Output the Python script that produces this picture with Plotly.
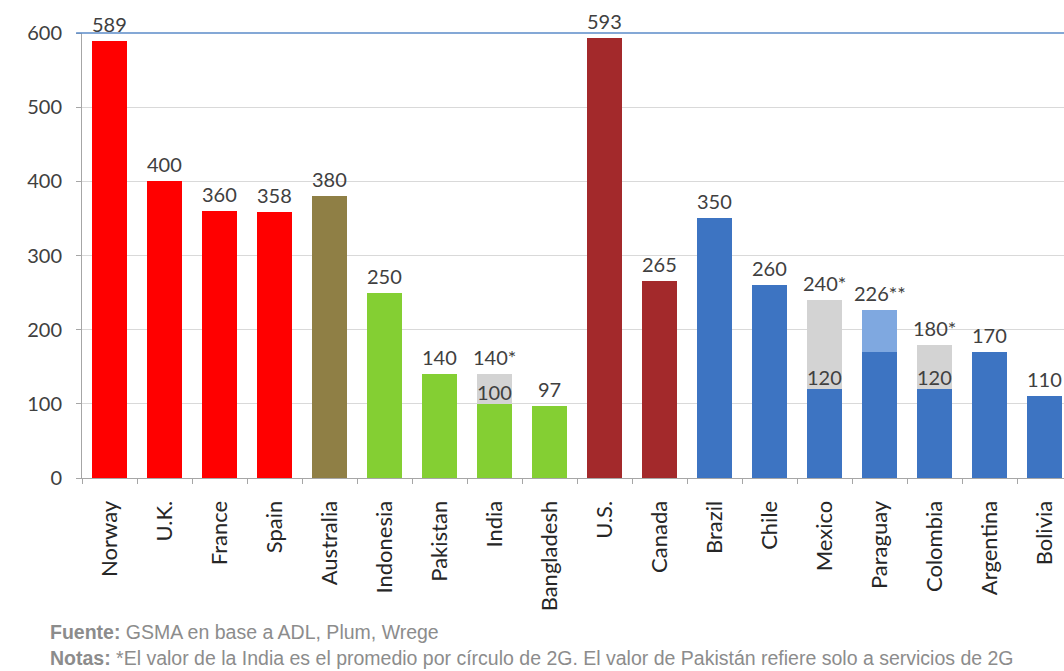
import plotly.graph_objects as go

# Categories and values
countries = ["Norway", "U.K.", "France", "Spain", "Australia", "Indonesia", "Pakistan",
             "India", "Bangladesh", "U.S.", "Canada", "Brazil", "Chile", "Mexico",
             "Paraguay", "Colombia", "Argentina", "Bolivia"]
totals = [589, 400, 360, 358, 380, 250, 140, 140, 97, 593, 265, 350, 260, 240, 226, 180, 170, 110]
# lower segment for the split bars (None = single-segment bar)
lower = [None, None, None, None, None, None, None, 100, None, None, None, None, None, 120,
         170, 120, None, None]
total_labels = ["589", "400", "360", "358", "380", "250", "140", "140*", "97", "593", "265",
                "350", "260", "240*", "226**", "180*", "170", "110"]
lower_labels = ["", "", "", "", "", "", "", "100", "", "", "", "", "", "120", "", "120", "", ""]
groups = ["eu", "eu", "eu", "eu", "au", "as", "as", "as", "as", "na", "na",
          "la", "la", "la", "la", "la", "la", "la"]
y_ticks = [0, 100, 200, 300, 400, 500, 600]

group_colors = {"eu": "#FF0000", "au": "#8F7F45", "as": "#84CF33", "na": "#A3292B", "la": "#3D74C2"}
upper_colors = {"India": "#D3D3D3", "Mexico": "#D3D3D3", "Colombia": "#D3D3D3", "Paraguay": "#7FA8E0"}

base_y = [t if lo is None else lo for t, lo in zip(totals, lower)]
top_y = [0 if lo is None else t - lo for t, lo in zip(totals, lower)]
base_colors = [group_colors[g] for g in groups]
top_colors = [upper_colors.get(c, "rgba(0,0,0,0)") for c in countries]

FONT = "Lato, 'Open Sans', sans-serif"
TXT = "#404040"
NOTE_FONT = dict(family="Liberation Sans, Arial, sans-serif", size=19.5, color="#8C8C8C")

fig = go.Figure()
fig.add_trace(go.Bar(x=countries, y=base_y, marker=dict(color=base_colors, line=dict(width=0)),
                     width=0.64, hoverinfo="skip"))
fig.add_trace(go.Bar(x=countries, y=top_y, marker=dict(color=top_colors, line=dict(width=0)),
                     width=0.64, hoverinfo="skip"))

# value labels above each bar and at the top of the lower segments
for c, t, lab in zip(countries, totals, total_labels):
    fig.add_annotation(x=c, y=t, text=lab, showarrow=False, yanchor="bottom", yshift=3,
                       font=dict(family=FONT, size=20, color=TXT))
for c, lo, lab in zip(countries, lower, lower_labels):
    if lo is not None and lab:
        fig.add_annotation(x=c, y=lo, text=lab, showarrow=False, yanchor="bottom", yshift=-2,
                           font=dict(family=FONT, size=20, color=TXT))

# blue rule along the top of the value range
fig.add_shape(type="line", xref="paper", yref="paper", x0=-0.006, x1=1, y0=1, y1=1,
              line=dict(color="#5B8BC9", width=1.3))

fig.add_annotation(xref="paper", yref="paper", x=-0.0346, y=-0.346, xanchor="left",
                   yanchor="middle", showarrow=False, align="left",
                   text="<b>Fuente:</b> GSMA en base a ADL, Plum, Wrege", font=NOTE_FONT)
fig.add_annotation(xref="paper", yref="paper", x=-0.0346, y=-0.404, xanchor="left",
                   yanchor="middle", showarrow=False, align="left",
                   text="<b>Notas:</b> *El valor de la India es el promedio por círculo de 2G. "
                        "El valor de Pakistán refiere solo a servicios de 2G",
                   font=NOTE_FONT)

fig.update_layout(
    width=1064, height=671, barmode="stack", showlegend=False,
    margin=dict(l=82, r=0, t=33, b=193),
    paper_bgcolor="white", plot_bgcolor="white",
    font=dict(family=FONT, size=16, color=TXT),
    xaxis=dict(type="category", range=[-0.5, 17.35], tickangle=-90, tickson="boundaries",
               ticks="outside", ticklen=5, tickcolor="#A6A6A6", showline=True,
               linecolor="#A6A6A6", linewidth=1, showgrid=False, automargin=False,
               ticklabelstandoff=13,
               tickfont=dict(family=FONT, size=22, color="#262626")),
    yaxis=dict(range=[0, 600], tickvals=y_ticks, showgrid=True,
               gridcolor="#D9D9D9", gridwidth=1, showline=True, linecolor="#A6A6A6",
               ticks="outside", ticklen=5, tickcolor="#A6A6A6", zeroline=False,
               automargin=False, ticklabelstandoff=10,
               tickfont=dict(family=FONT, size=20, color=TXT)),
)

fig.write_html("out.html")
